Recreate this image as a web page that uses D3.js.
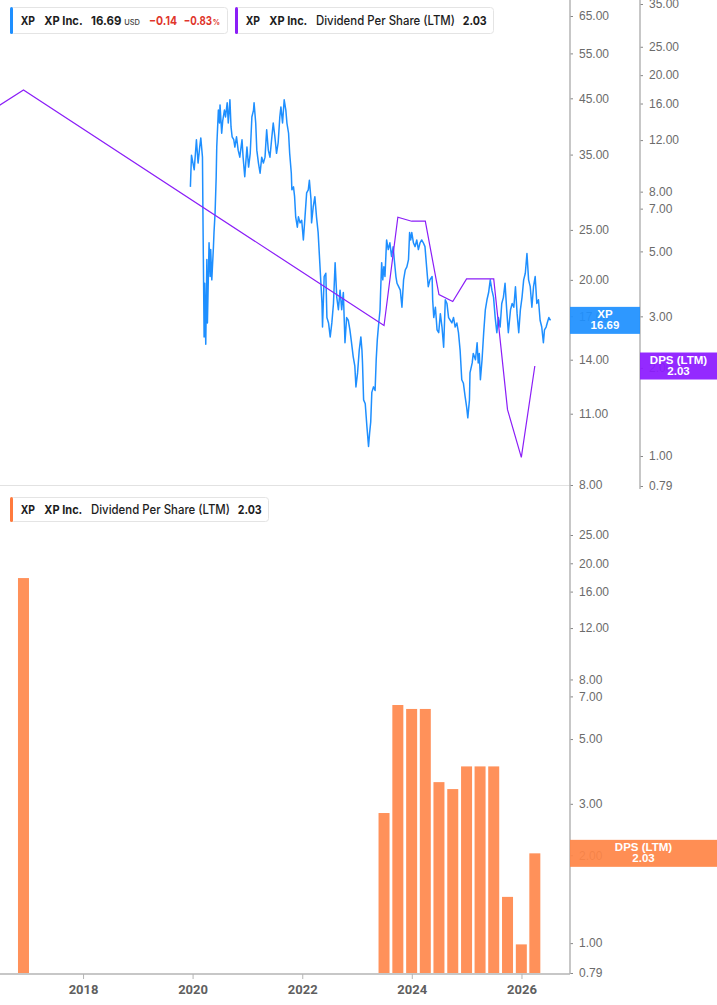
<!DOCTYPE html>
<html>
<head>
<meta charset="utf-8">
<script src="https://cdn.jsdelivr.net/npm/d3@7"></script>
<style>
  body { margin: 0; background: #fff; }
  svg { display: block; font-family: "Liberation Sans", Arial, sans-serif; }
</style>
</head>
<body>
<script>
// XP Inc. share price (USD), dates as decimal years
const priceYears = [
  2019.96, 2019.98, 2020.03, 2020.07, 2020.10, 2020.13, 2020.15, 2020.18, 2020.19, 2020.21,
  2020.22, 2020.24, 2020.26, 2020.27, 2020.30, 2020.32, 2020.33, 2020.35, 2020.38, 2020.39,
  2020.41, 2020.43, 2020.44, 2020.47, 2020.49, 2020.50, 2020.53, 2020.55, 2020.58, 2020.60,
  2020.63, 2020.65, 2020.68, 2020.70, 2020.72, 2020.75, 2020.77, 2020.80, 2020.83, 2020.86,
  2020.90, 2020.92, 2020.95, 2020.99, 2021.02, 2021.05, 2021.08, 2021.11, 2021.12, 2021.15,
  2021.17, 2021.20, 2021.23, 2021.26, 2021.29, 2021.32, 2021.35, 2021.38, 2021.41, 2021.44,
  2021.47, 2021.50, 2021.53, 2021.56, 2021.59, 2021.61, 2021.64, 2021.67, 2021.70, 2021.72,
  2021.75, 2021.77, 2021.80, 2021.81, 2021.84, 2021.86, 2021.88, 2021.91, 2021.93, 2021.96,
  2021.99, 2022.02, 2022.05, 2022.08, 2022.11, 2022.13, 2022.16, 2022.17, 2022.20, 2022.23,
  2022.26, 2022.29, 2022.32, 2022.36, 2022.37, 2022.40, 2022.43, 2022.45, 2022.48, 2022.51,
  2022.54, 2022.57, 2022.60, 2022.63, 2022.66, 2022.69, 2022.72, 2022.75, 2022.78, 2022.81,
  2022.84, 2022.87, 2022.90, 2022.93, 2022.96, 2022.98, 2023.01, 2023.04, 2023.07, 2023.09,
  2023.10, 2023.12, 2023.15, 2023.18, 2023.21, 2023.23, 2023.25, 2023.27, 2023.30, 2023.33,
  2023.35, 2023.37, 2023.39, 2023.42, 2023.43, 2023.45, 2023.47, 2023.49, 2023.51, 2023.54,
  2023.57, 2023.60, 2023.63, 2023.66, 2023.68, 2023.71, 2023.73, 2023.76, 2023.79, 2023.82,
  2023.85, 2023.88, 2023.91, 2023.94, 2023.96, 2023.98, 2024.00, 2024.03, 2024.06, 2024.09,
  2024.12, 2024.15, 2024.18, 2024.21, 2024.24, 2024.27, 2024.30, 2024.33, 2024.37, 2024.38,
  2024.40, 2024.43, 2024.46, 2024.49, 2024.52, 2024.55, 2024.58, 2024.61, 2024.64, 2024.67,
  2024.70, 2024.73, 2024.76, 2024.79, 2024.82, 2024.85, 2024.88, 2024.91, 2024.94, 2024.97,
  2025.00, 2025.02, 2025.05, 2025.06, 2025.10, 2025.12, 2025.16, 2025.19, 2025.21, 2025.23,
  2025.25, 2025.28, 2025.31, 2025.34, 2025.37, 2025.40, 2025.43, 2025.46, 2025.49, 2025.52,
  2025.55, 2025.58, 2025.61, 2025.64, 2025.67, 2025.70, 2025.73, 2025.76, 2025.80, 2025.83,
  2025.86, 2025.89, 2025.92, 2025.95, 2025.98, 2026.01, 2026.04, 2026.07, 2026.10, 2026.13,
  2026.16, 2026.19, 2026.22, 2026.25, 2026.28, 2026.31, 2026.34, 2026.37, 2026.40, 2026.42,
  2026.45, 2026.47, 2026.50, 2026.53
];
const priceValues = [
  30.3, 34.9, 32.7, 37.4, 33.7, 36.2, 37.7, 34.6, 25.8, 15.5,
  19.7, 15.0, 21.9, 16.5, 23.6, 20.3, 22.9, 20.0, 23.2, 24.7,
  27.0, 31.7, 36.2, 42.7, 40.3, 43.7, 38.5, 40.8, 42.7, 41.4,
  44.1, 40.3, 44.7, 39.6, 37.9, 37.4, 36.2, 37.9, 35.7, 34.6,
  37.4, 34.6, 31.7, 36.2, 33.1, 35.2, 41.4, 42.7, 44.1, 40.3,
  35.7, 33.7, 32.2, 34.6, 33.7, 34.6, 39.1, 35.7, 34.6, 37.4,
  40.3, 37.9, 35.2, 36.9, 41.4, 43.3, 40.3, 44.7, 42.7, 40.3,
  38.5, 35.2, 32.2, 29.9, 30.3, 29.0, 26.5, 25.3, 26.5, 25.8,
  26.1, 23.9, 26.5, 29.5, 29.9, 31.2, 28.6, 25.8, 27.7, 29.0,
  26.5, 24.7, 21.6, 18.0, 16.2, 20.3, 20.6, 16.9, 16.5, 15.5,
  16.5, 18.0, 21.6, 18.5, 17.5, 19.1, 17.5, 18.9, 15.1, 16.9,
  16.7, 16.0, 15.1, 14.2, 13.6, 12.4, 13.2, 14.6, 15.5, 14.6,
  13.8, 11.7, 11.5, 10.4, 9.5, 10.1, 10.6, 12.1, 12.4, 12.2,
  14.0, 15.3, 16.2, 17.5, 18.9, 21.6, 20.0, 21.2, 20.3, 23.9,
  22.9, 23.6, 22.2, 23.2, 21.9, 20.3, 19.7, 19.4, 19.1, 17.7,
  20.0, 20.9, 21.2, 21.9, 24.7, 23.9, 24.7, 23.6, 23.2, 23.9,
  22.9, 23.6, 23.9, 23.6, 23.2, 21.2, 19.4, 20.0, 20.3, 18.3,
  16.9, 17.7, 16.0, 15.8, 17.2, 16.2, 14.8, 18.3, 18.0, 16.9,
  16.7, 16.5, 16.9, 16.2, 16.5, 15.8, 14.6, 12.8, 12.6, 11.9,
  11.3, 10.8, 11.7, 13.2, 13.8, 14.4, 14.0, 15.1, 13.8, 14.4,
  12.8, 14.0, 15.8, 17.5, 18.3, 18.9, 20.0, 19.1, 18.5, 16.9,
  15.8, 16.9, 16.2, 18.0, 18.5, 19.7, 17.5, 15.8, 17.5, 18.0,
  17.7, 19.4, 17.2, 15.8, 17.5, 18.5, 20.0, 20.6, 22.5, 20.0,
  19.4, 17.7, 19.4, 20.3, 18.0, 18.3, 16.7, 16.2, 15.1, 16.0,
  16.2, 16.5, 16.9, 16.69
];

// Dividend per share (LTM)
const dpsDates = [
  "2015-11-30", "2016-11-30", "2023-06-30", "2023-09-30", "2023-12-31", "2024-03-31",
  "2024-06-30", "2024-09-30", "2024-12-31", "2025-03-31", "2025-06-30", "2025-09-30",
  "2025-12-31", "2026-03-31"
];
const dpsValues = [13.5, 17.8, 2.79, 6.54, 6.34, 6.34, 3.56, 3.37, 4.03, 4.03, 4.03, 1.44, 0.99, 2.03];

// axis ticks
const priceTicks = [65, 55, 45, 35, 25, 20, 17, 14, 11, 8];
const dpsTopTicks = [35, 25, 20, 16, 12, 8, 7, 5, 3, 2, 1, 0.79];
const dpsBottomTicks = [25, 20, 16, 12, 8, 7, 5, 3, 2, 1, 0.79];

const lastPrice = 16.69, lastDps = 2.03, change = -0.14, changePct = -0.83;

function yearToDate(y) {
  const yr = Math.floor(y);
  const a = new Date(yr, 0, 1), b = new Date(yr + 1, 0, 1);
  return new Date(+a + (y - yr) * (b - a));
}

const priceData = priceYears.map((y, i) => ({ date: yearToDate(y), value: priceValues[i] }));
const dpsData = dpsDates.map((d, i) => ({ date: d3.isoParse(d), value: dpsValues[i] }));

const W = 717, H = 1005, plotW = 570;
const blue = "#1e8fff", purple = "#8b1ef7", orange = "#ff915a";
const fmt2 = d3.format(".2f");

const svg = d3.select("body").append("svg").attr("width", W).attr("height", H);

// scales
const x = d3.scaleTime()
  .domain([yearToDate(2016.485), yearToDate(2026.886)])
  .range([0, plotW]);
const yPrice = d3.scaleLog().domain([8, 65]).range([485, 16]);
const yDpsTop = d3.scaleLog().domain([0.79, 35]).range([486, 4]);
const yDpsBot = d3.scaleLog().domain([0.79, 25]).range([973, 535]);

svg.append("clipPath").attr("id", "clipTop")
  .append("rect").attr("x", 0).attr("y", 0).attr("width", plotW).attr("height", 490);

// pane separator / baseline
svg.append("line").attr("x1", 0).attr("x2", plotW).attr("y1", 485.5).attr("y2", 485.5)
  .attr("stroke", "#e2e2e2").attr("stroke-width", 1);
svg.append("line").attr("x1", 0).attr("x2", plotW).attr("y1", 974).attr("y2", 974)
  .attr("stroke", "#b4b4b4").attr("stroke-width", 1.5);

// top pane lines
const topPane = svg.append("g").attr("clip-path", "url(#clipTop)");
topPane.append("path").datum(priceData)
  .attr("d", d3.line().x(d => x(d.date)).y(d => yPrice(d.value)))
  .attr("fill", "none").attr("stroke", blue).attr("stroke-width", 1.5)
  .attr("stroke-linejoin", "round");
topPane.append("path").datum(dpsData)
  .attr("d", d3.line().x(d => x(d.date)).y(d => yDpsTop(d.value)))
  .attr("fill", "none").attr("stroke", purple).attr("stroke-width", 1.2);

// bottom pane bars
svg.append("g").selectAll("rect").data(dpsData.filter(d => x(d.date) > 0)).enter()
  .append("rect")
  .attr("x", d => x(d.date) - 5.5)
  .attr("width", 11)
  .attr("y", d => yDpsBot(d.value))
  .attr("height", d => 973 - yDpsBot(d.value))
  .attr("fill", orange);

// right axes
function rightAxis(scale, ticks, xPos) {
  const g = svg.append("g").attr("transform", `translate(${xPos},0)`)
    .call(d3.axisRight(scale).tickValues(ticks).tickFormat(fmt2).tickSize(3).tickPadding(6));
  g.select(".domain").remove();
  g.selectAll(".tick line").attr("stroke", "#888");
  g.selectAll(".tick text").attr("fill", "#6b6b6b").attr("font-size", 12)
    .attr("font-family", "'Liberation Sans', Arial, sans-serif");
  return g;
}
rightAxis(yPrice, priceTicks, plotW);
rightAxis(yDpsTop, dpsTopTicks, 640);
rightAxis(yDpsBot, dpsBottomTicks, plotW);

svg.append("line").attr("x1", plotW).attr("x2", plotW).attr("y1", 0).attr("y2", 974)
  .attr("stroke", "#b4b4b4").attr("stroke-width", 1.5);
svg.append("line").attr("x1", 640).attr("x2", 640).attr("y1", 0).attr("y2", 489)
  .attr("stroke", "#b4b4b4").attr("stroke-width", 1.5);

// x axis
const xAxis = svg.append("g").attr("transform", "translate(0,974)")
  .call(d3.axisBottom(x).ticks(d3.timeYear.every(2)).tickFormat(d3.timeFormat("%Y")).tickSize(5).tickPadding(6));
xAxis.select(".domain").remove();
xAxis.selectAll(".tick line").attr("stroke", "#b4b4b4");
xAxis.selectAll(".tick text").attr("fill", "#5f5f5f").attr("font-size", 13).attr("font-weight", "bold")
  .attr("font-family", "Roboto, sans-serif");

// value labels on axes
function valueLabel(x0, yc, w, color, lines) {
  const g = svg.append("g");
  g.append("rect").attr("x", x0).attr("y", yc - 13.5).attr("width", w).attr("height", 27)
    .attr("fill", color).attr("fill-opacity", 0.93);
  lines.forEach((t, i) => {
    g.append("text").attr("x", x0 + w / 2).attr("y", yc - 2 + i * 11)
      .attr("text-anchor", "middle").attr("fill", "#fff")
      .attr("font-size", 11.5).attr("font-weight", "bold")
      .attr("font-family", "'Liberation Sans', Arial, sans-serif").text(t);
  });
}
valueLabel(plotW, yPrice(lastPrice), 70, "#1e90ff", ["XP", fmt2(lastPrice)]);
valueLabel(640, yDpsTop(lastDps), 77, "#8c1aff", ["DPS (LTM)", fmt2(lastDps)]);
valueLabel(plotW, yDpsBot(lastDps), 147, "#ff8547", ["DPS (LTM)", fmt2(lastDps)]);

// legends: each part placed at an offset from the box's left edge, fitted to a width
function legend(x0, y0, w, h, color, parts) {
  const g = svg.append("g");
  g.append("rect").attr("x", x0 + 0.5).attr("y", y0 + 0.5).attr("width", w).attr("height", h)
    .attr("rx", 3).attr("fill", "#fff").attr("stroke", "#e4e4e4");
  g.append("rect").attr("x", x0).attr("y", y0).attr("width", 3).attr("height", h + 1)
    .attr("rx", 1.5).attr("fill", color);
  const base = y0 + h / 2 + 4.5;
  parts.forEach(p => {
    g.append("text").attr("x", x0 + p.dx).attr("y", base)
      .attr("font-family", "Inter, 'Noto Sans', sans-serif")
      .attr("font-size", p.size || 12).attr("font-weight", p.weight || 700)
      .attr("fill", p.color || "#1d1d1d")
      .attr("textLength", p.w).attr("lengthAdjust", "spacingAndGlyphs")
      .text(p.text);
  });
}
const red = "#e0352b";
legend(10, 7, 217, 26, blue, [
  { text: "XP", dx: 10.7, w: 14.3 }, { text: "XP Inc.", dx: 34.3, w: 38.3 },
  { text: fmt2(lastPrice), dx: 81, w: 30.3 },
  { text: "USD", dx: 114.3, w: 15.7, size: 7.5, weight: 500, color: "#444" },
  { text: fmt2(change), dx: 139, w: 28, color: red },
  { text: fmt2(changePct), dx: 173.7, w: 28.3, color: red },
  { text: "%", dx: 202.7, w: 7.3, size: 7.5, color: red }
]);
const dpsParts = [
  { text: "XP", dx: 10.7, w: 14.3 }, { text: "XP Inc.", dx: 34.3, w: 38 },
  { text: "Dividend Per Share (LTM)", dx: 81, w: 139, weight: 500, size: 12.5 },
  { text: fmt2(lastDps), dx: 227.7, w: 24 }
];
legend(235, 7, 258, 26, purple, dpsParts);
legend(10, 497, 258, 24, "#ff7a3d", dpsParts);
</script>
</body>
</html>
